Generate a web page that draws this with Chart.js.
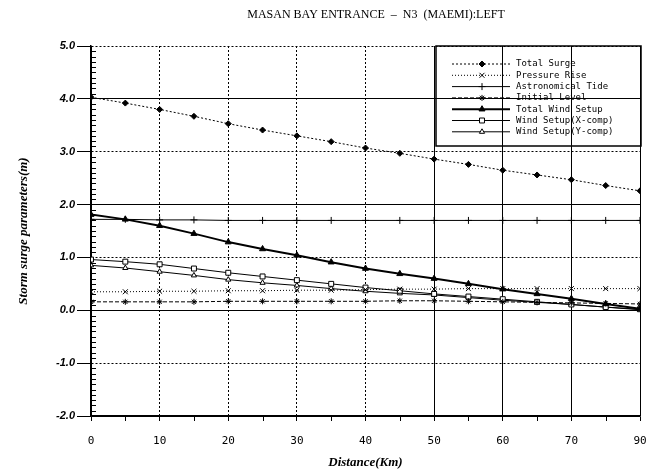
<!DOCTYPE html>
<html>
<head>
<meta charset="utf-8">
<script src="https://cdn.jsdelivr.net/npm/chart.js@4.4.1/dist/chart.umd.min.js"></script>
<style>
  body { margin: 0; background: #fff; }
  #wrap { width: 651px; height: 475px; }
</style>
</head>
<body>
<div id="wrap"><canvas id="myChart" width="651" height="475"></canvas></div>
<script>
// distance along the bay (km) and storm surge parameters (m)
var distance = [0, 5, 10, 15, 20, 25, 30, 35, 40, 45, 50, 55, 60, 65, 70, 75, 80];
var xTickLabels = ["0", "10", "20", "30", "40", "50", "60", "70", "90"];

var totalSurge   = [4.03, 3.92, 3.80, 3.67, 3.53, 3.41, 3.30, 3.19, 3.07, 2.97, 2.86, 2.76, 2.65, 2.56, 2.47, 2.36, 2.26];
var pressureRise = [0.35, 0.35, 0.36, 0.36, 0.37, 0.37, 0.38, 0.38, 0.39, 0.40, 0.40, 0.41, 0.41, 0.41, 0.41, 0.41, 0.41];
var astroTide    = [1.72, 1.72, 1.71, 1.71, 1.70, 1.70, 1.70, 1.70, 1.70, 1.70, 1.70, 1.70, 1.70, 1.70, 1.70, 1.70, 1.70];
var initialLevel = [0.16, 0.16, 0.16, 0.16, 0.17, 0.17, 0.17, 0.17, 0.17, 0.18, 0.18, 0.17, 0.16, 0.15, 0.14, 0.13, 0.12];
var totalWind    = [1.81, 1.72, 1.60, 1.45, 1.29, 1.16, 1.04, 0.91, 0.79, 0.69, 0.60, 0.50, 0.40, 0.31, 0.22, 0.12, 0.03];
var windX        = [0.96, 0.92, 0.87, 0.79, 0.71, 0.64, 0.57, 0.50, 0.43, 0.37, 0.31, 0.26, 0.21, 0.16, 0.11, 0.06, 0.02];
var windY        = [0.85, 0.80, 0.73, 0.66, 0.58, 0.52, 0.47, 0.41, 0.36, 0.32, 0.29, 0.24, 0.19, 0.15, 0.11, 0.06, 0.01];

var solidX = [0, 50, 60, 70, 80];
var solidY = [-2, 0, 2, 4];

function pts(arr) {
  return arr.map(function (v, i) { return { x: distance[i], y: v }; });
}

function series(label, arr, dash, width, style, radius, fill) {
  return {
    label: label,
    data: pts(arr),
    borderColor: "#000",
    borderWidth: width,
    borderDash: dash,
    pointStyle: style,
    pointRadius: radius,
    pointBorderColor: "#000",
    pointBorderWidth: 1,
    pointBackgroundColor: fill,
    tension: 0
  };
}

var datasets = [
  series("Total Surge", totalSurge, [2, 2], 1, "rectRot", 3, "#000"),
  series("Pressure Rise", pressureRise, [1, 2], 1, "crossRot", 3.5, "#000"),
  series("Astronomical Tide", astroTide, [], 1, "cross", 3.5, "#000"),
  series("Initial Level", initialLevel, [4, 2], 1, "star", 3, "#000"),
  series("Total Wind Setup", totalWind, [], 2, "triangle", 3.5, "#000"),
  series("Wind Setup(X-comp)", windX, [], 1, "rect", 3.5, "#fff"),
  series("Wind Setup(Y-comp)", windY, [], 1, "triangle", 3, "#fff")
];

var titlePlugin = {
  id: "topTitle",
  afterDraw: function (chart) {
    var c = chart.ctx;
    c.save();
    c.fillStyle = "#000";
    c.font = "12px 'Liberation Serif', serif";
    c.textAlign = "center";
    c.textBaseline = "middle";
    c.fillText("MASAN BAY ENTRANCE  \u2013  N3  (MAEMI):LEFT", 376, 15);
    c.restore();
  }
};

var minorTicks = {
  id: "minorTicks",
  afterDraw: function (chart) {
    var c = chart.ctx, xs = chart.scales.x, ys = chart.scales.y;
    c.save();
    c.strokeStyle = "#000";
    c.lineWidth = 1;
    c.beginPath();
    for (var k = -20; k <= 50; k++) {
      if (k % 10 === 0) continue;
      var py = Math.round(ys.getPixelForValue(k / 10)) + 0.5;
      c.moveTo(xs.left, py);
      c.lineTo(xs.left + 5, py);
    }
    for (var d = 5; d < 80; d += 10) {
      var px = Math.round(xs.getPixelForValue(d)) + 0.5;
      c.moveTo(px, ys.bottom);
      c.lineTo(px, ys.bottom + 5);
    }
    c.stroke();
    c.restore();
  }
};

var boxLegend = {
  id: "boxLegend",
  afterDraw: function (chart) {
    var c = chart.ctx, a = chart.chartArea;
    var left = a.right - 204, top = a.top, right = a.right + 1, bottom = a.top + 100;
    c.save();
    c.strokeStyle = "#000";
    c.lineWidth = 1.5;
    c.strokeRect(left, top, right - left, bottom - top);
    c.font = "9px 'DejaVu Sans Mono', monospace";
    c.textBaseline = "middle";
    c.fillStyle = "#000";
    chart.data.datasets.forEach(function (ds, i) {
      var y = top + 18 + i * 11.3;
      c.save();
      c.strokeStyle = "#000";
      c.lineWidth = ds.borderWidth;
      c.setLineDash(ds.borderDash);
      c.beginPath();
      c.moveTo(left + 16, y);
      c.lineTo(left + 74, y);
      c.stroke();
      c.restore();
      c.save();
      c.fillStyle = ds.pointBackgroundColor;
      c.strokeStyle = "#000";
      c.lineWidth = 1;
      Chart.helpers.drawPoint(c, { pointStyle: ds.pointStyle, radius: ds.pointRadius, rotation: 0, borderWidth: 1 }, left + 46, y);
      c.restore();
      c.fillText(ds.label, left + 80, y);
    });
    c.restore();
  }
};

var ctx = document.getElementById("myChart");
var myChart = new Chart(ctx, {
  type: "line",
  data: { datasets: datasets },
  plugins: [titlePlugin, minorTicks, boxLegend],
  options: {
    responsive: false,
    animation: false,
    layout: { padding: { left: 0, right: 11, top: 46, bottom: 0 } },
    plugins: {
      legend: { display: false },
      title: { display: false },
      tooltip: { enabled: false }
    },
    scales: {
      x: {
        type: "linear",
        min: 0,
        max: 80,
        afterFit: function (s) { s.height = 59; s.paddingLeft = 0; s.paddingRight = 0; },
        ticks: {
          stepSize: 10,
          padding: 14,
          color: "#000",
          font: { family: "'DejaVu Sans Mono', monospace", size: 11 },
          callback: function (v, i) { return xTickLabels[i]; }
        },
        grid: {
          color: "#000",
          lineWidth: 1,
          tickLength: 5,
          tickColor: "#000",
          tickBorderDash: []
        },
        border: {
          color: "#000",
          width: 1.5,
          dash: function (c) {
            if (!c.tick) return [];
            return solidX.indexOf(c.tick.value) >= 0 ? [] : [2, 2];
          }
        },
        title: {
          display: true,
          text: "Distance(Km)",
          color: "#000",
          font: { family: "'Liberation Serif', serif", size: 13, style: "italic", weight: "bold" },
          padding: { top: 0, bottom: 5 }
        }
      },
      y: {
        type: "linear",
        min: -2,
        max: 5,
        afterFit: function (s) { s.width = 91; s.paddingTop = 0; s.paddingBottom = 0; },
        ticks: {
          stepSize: 1,
          padding: 2,
          color: "#000",
          font: { family: "'Liberation Sans', sans-serif", size: 11, style: "italic", weight: "bold" },
          callback: function (v) { return v.toFixed(1); }
        },
        grid: {
          color: "#000",
          lineWidth: 1,
          tickLength: 14,
          tickColor: "#000",
          tickBorderDash: []
        },
        border: {
          color: "#000",
          width: 1.5,
          dash: function (c) {
            if (!c.tick) return [];
            return solidY.indexOf(c.tick.value) >= 0 ? [] : [2, 2];
          }
        },
        title: {
          display: true,
          text: "Storm surge parameters(m)",
          color: "#000",
          font: { family: "'Liberation Serif', serif", size: 13, style: "italic", weight: "bold" },
          padding: { top: 16, bottom: 0 }
        }
      }
    }
  }
});
</script>
</body>
</html>
